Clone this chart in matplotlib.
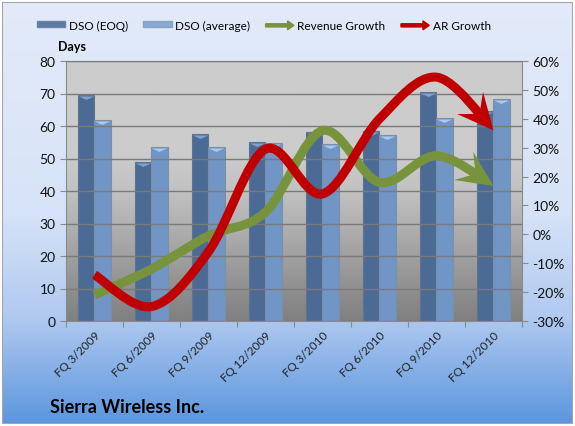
import numpy as np
import matplotlib.pyplot as plt
import matplotlib.patches as mpatches
from matplotlib.path import Path
from matplotlib.transforms import IdentityTransform
from matplotlib.colors import LinearSegmentedColormap
from matplotlib.legend_handler import HandlerPatch

plt.rcParams['font.family'] = ['Lato', 'DejaVu Sans']

quarters = ['FQ 3/2009', 'FQ 6/2009', 'FQ 9/2009', 'FQ 12/2009',
            'FQ 3/2010', 'FQ 6/2010', 'FQ 9/2010', 'FQ 12/2010']
dso_eoq = [69.6, 48.8, 57.5, 55.0, 58.3, 58.6, 70.4, 64.5]
dso_avg = [61.8, 53.4, 53.4, 54.8, 54.5, 57.2, 62.4, 68.3]
rev_growth = [-21.0, -12.0, -0.5, 7.7, 35.9, 18.0, 27.2, 16.7]
ar_growth = [-14.0, -25.0, -6.0, 29.5, 14.0, 40.0, 54.4, 36.0]

W, H = 575, 427
fig = plt.figure(figsize=(W / 100, H / 100), dpi=100)
fig.patch.set_facecolor('white')

# figure background gradient
bg = fig.add_axes([2 / W, 3 / H, 570 / W, 421 / H], zorder=-10)
bg_cmap = LinearSegmentedColormap.from_list(
    'bg', [(0.0, (0.36, 0.59, 0.87)), (0.25, (0.69, 0.79, 0.94)),
           (0.5, (0.84, 0.89, 0.97)), (1.0, (0.89, 0.92, 0.98))])
bg.imshow(np.linspace(0, 1, 256).reshape(-1, 1), aspect='auto', cmap=bg_cmap,
          origin='lower', extent=[0, 1, 0, 1])
bg.set_xticks([])
bg.set_yticks([])
for s in bg.spines.values():
    s.set_color('#a6a6a6')

ax = fig.add_axes([66 / W, 1 - 322 / H, 456 / W, 260 / H])
ax.set_zorder(1)
plot_cmap = LinearSegmentedColormap.from_list(
    'pl', [(0.0, (0.5, 0.5, 0.5)), (0.5, (0.76, 0.76, 0.76)), (0.65, (0.8, 0.8, 0.8)),
           (1.0, (0.8, 0.8, 0.8))])
ax.imshow(np.linspace(0, 1, 256).reshape(-1, 1), aspect='auto', cmap=plot_cmap,
          origin='lower', extent=[-0.5, 7.5, 0, 80], zorder=0)

x = np.arange(len(quarters))
bw = 0.29
ax.bar(x - 0.15, dso_eoq, bw, color='#4c6b94', edgecolor='#5f7390', linewidth=0.8, zorder=2)
ax.bar(x + 0.14, dso_avg, bw, color='#7196c5', edgecolor='#7d8fa8', linewidth=0.8, zorder=2)
cap = [(-1, 0), (1, 0), (0, -0.45), (-1, 0)]
ax.plot(x - 0.15, np.array(dso_eoq) - 0.3, ls='none', marker=cap, ms=11,
        color='#7fa3d0', mew=0, zorder=3)
ax.plot(x + 0.14, np.array(dso_avg) - 0.3, ls='none', marker=cap, ms=11,
        color='#a9c9ee', mew=0, zorder=3)

ax.set_xlim(-0.5, 7.5)
ax.set_ylim(0, 80)
ax.set_yticks(range(0, 81, 10))
ax.yaxis.grid(True, color='#7a7a7a', linewidth=1)
ax.set_axisbelow(False)
ax.set_xticks(np.arange(-0.5, 8, 1), minor=False)
ax.set_xticklabels([])
ax.set_xticks(x, minor=True)
ax.set_xticklabels(quarters, minor=True, rotation=45, ha='right', rotation_mode='anchor',
                   fontsize=8.5, color='#222222')
ax.tick_params(axis='x', which='minor', length=0, pad=6)
ax.tick_params(axis='x', which='major', length=4, color='#8a8a8a')
ax.tick_params(axis='y', length=4, color='#8a8a8a', labelsize=10, colors='#111111')
for s in ax.spines.values():
    s.set_color('#8a8a8a')

ax2 = ax.twinx()
ax2.set_ylim(-30, 60)
ax2.set_yticks(range(-30, 61, 10))
ax2.set_yticklabels(['%d%%' % v for v in range(-30, 61, 10)])
ax2.tick_params(axis='y', length=4, color='#8a8a8a', labelsize=10, colors='#111111')
for s in ax2.spines.values():
    s.set_visible(False)


def smooth_ctrl(xs, ys):
    # excel-like smoothed line: cubic bezier segments
    pts = np.column_stack([xs, ys]).astype(float)
    segs = []
    n = len(pts)
    for i in range(n - 1):
        p0 = pts[max(i - 1, 0)]
        p1 = pts[i]
        p2 = pts[i + 1]
        p3 = pts[min(i + 2, n - 1)]
        segs.append([p1, p1 + (p2 - p0) / 6, p2 - (p3 - p1) / 6, p2])
    return segs


def bez(seg, t):
    a, b, c, d = seg
    return ((1 - t) ** 3) * a + 3 * ((1 - t) ** 2) * t * b + 3 * (1 - t) * t * t * c + t ** 3 * d


def arrow_curve(axis, xs, ys, col, lw=6.5, L=36, w=17, notch=0.6):
    segs = smooth_ctrl(xs, ys)
    tr = axis.transData
    last = segs[-1]
    tip = tr.transform(last[3])
    # cut the last segment where the notch of the head sits
    ts = np.linspace(0, 1, 400)
    dist = [np.hypot(*(tr.transform(bez(last, t)) - tip)) for t in ts]
    t = ts[np.argmin(np.abs(np.array(dist) - notch * L))]
    a, b, c, d = last
    ab = a + (b - a) * t
    bc = b + (c - b) * t
    abc = ab + (bc - ab) * t
    segs[-1] = [a, ab, abc, bez(last, t)]
    verts = [segs[0][0]]
    codes = [Path.MOVETO]
    for sg in segs:
        verts += list(sg[1:])
        codes += [Path.CURVE4] * 3
    axis.add_patch(mpatches.PathPatch(Path(verts, codes), fill=False, edgecolor=col,
                                      linewidth=lw, capstyle='butt', zorder=4))
    base = tr.transform(segs[-1][3])
    u = (tip - base) / np.hypot(*(tip - base))
    nrm = np.array([-u[1], u[0]])
    head = [tip, tip - L * u + w * nrm, tip - notch * L * u, tip - L * u - w * nrm]
    axis.add_patch(mpatches.Polygon(head, closed=True, facecolor=col, edgecolor='none',
                                    transform=IdentityTransform(), zorder=5))


arrow_curve(ax2, x, rev_growth, '#77933c')
arrow_curve(ax2, x, ar_growth, '#c00000')

fig.text(58 / W, 1 - 47 / H, 'Days', fontsize=9, fontweight='bold', ha='left', va='center')
fig.text(50 / W, 1 - 408 / H, 'Sierra Wireless Inc.', fontsize=13, fontweight='bold',
         ha='left', va='center')


def make_arrow(legend, orig_handle, xdescent, ydescent, width, height, fontsize):
    return mpatches.FancyArrow(0, height / 2, width, 0, width=height * 0.5,
                               head_width=height * 1.4, head_length=height * 1.0,
                               length_includes_head=True, color=orig_handle.get_facecolor())


handles = [mpatches.Patch(facecolor='#5c7aa3', edgecolor='#6f82a0'),
           mpatches.Patch(facecolor='#86a9d6', edgecolor='#8fa3be'),
           mpatches.FancyArrow(0, 0, 1, 0, color='#77933c'),
           mpatches.FancyArrow(0, 0, 1, 0, color='#c00000')]
labels = ['DSO (EOQ)', 'DSO (average)', 'Revenue Growth', 'AR Growth']
fig.legend(handles, labels, loc='center', bbox_to_anchor=(264 / W, 1 - 26 / H), ncol=4,
           frameon=False, fontsize=8.5, handlelength=2.4, handleheight=0.45,
           columnspacing=1.3, handletextpad=0.3,
           handler_map={mpatches.FancyArrow: HandlerPatch(patch_func=make_arrow)})

fig.savefig('out.png', dpi=100)
